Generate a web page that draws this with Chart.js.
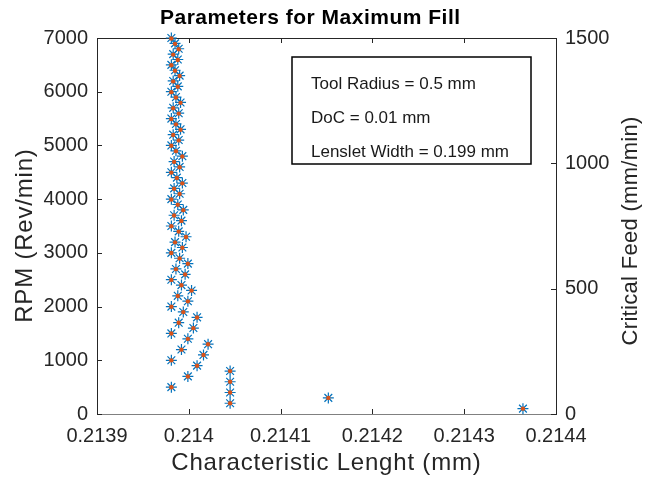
<!DOCTYPE html>
<html>
<head>
<meta charset="utf-8">
<script src="https://cdn.jsdelivr.net/npm/chart.js@4.4.1/dist/chart.umd.min.js"></script>
<style>
  body { margin: 0; background: #fff; }
  canvas { display: block; }
</style>
</head>
<body>
<canvas id="fillChart" width="651" height="479"></canvas>
<script>
// Spindle speed (left axis)
const rpm = [
  100, 200, 300, 400, 500, 600, 700, 800, 900, 1000,
  1100, 1200, 1300, 1400, 1500, 1600, 1700, 1800, 1900, 2000,
  2100, 2200, 2300, 2400, 2500, 2600, 2700, 2800, 2900, 3000,
  3100, 3200, 3300, 3400, 3500, 3600, 3700, 3800, 3900, 4000,
  4100, 4200, 4300, 4400, 4500, 4600, 4700, 4800, 4900, 5000,
  5100, 5200, 5300, 5400, 5500, 5600, 5700, 5800, 5900, 6000,
  6100, 6200, 6300, 6400, 6500, 6600, 6700, 6800, 6900, 7000
];
// Characteristic length (x) for each rpm
const charLength = [
  0.214364, 0.214045, 0.214152, 0.214045, 0.213981, 0.214045, 0.213999, 0.214045, 0.214009, 0.213981,
  0.214016, 0.213992, 0.214021, 0.213999, 0.213981, 0.214005, 0.213989, 0.214009, 0.213994, 0.213981,
  0.213999, 0.213988, 0.214003, 0.213992, 0.213981, 0.213996, 0.213986, 0.213999, 0.213990, 0.213981,
  0.213993, 0.213985, 0.213997, 0.213989, 0.213981, 0.213992, 0.213984, 0.213994, 0.213988, 0.213981,
  0.213990, 0.213984, 0.213993, 0.213987, 0.213981, 0.213990, 0.213984, 0.213993, 0.213986, 0.213981,
  0.213989, 0.213983, 0.213991, 0.213986, 0.213981, 0.213989, 0.213983, 0.213991, 0.213986, 0.213981,
  0.213988, 0.213983, 0.213990, 0.213985, 0.213981, 0.213988, 0.213983, 0.213989, 0.213985, 0.213981
];
// Critical feed (right axis, mm/min)
const critFeed = [
  21.4, 42.8, 64.2, 85.6, 107, 128.4, 149.8, 171.2, 192.6, 214,
  235.4, 256.8, 278.2, 299.6, 321, 342.4, 363.8, 385.2, 406.6, 428,
  449.4, 470.8, 492.2, 513.6, 535, 556.4, 577.8, 599.2, 620.6, 642,
  663.4, 684.8, 706.2, 727.6, 749, 770.4, 791.8, 813.2, 834.6, 856,
  877.4, 898.8, 920.2, 941.6, 963, 984.4, 1005.8, 1027.2, 1048.6, 1070,
  1091.4, 1112.8, 1134.2, 1155.6, 1177, 1198.4, 1219.8, 1241.2, 1262.6, 1284,
  1305.4, 1326.8, 1348.2, 1369.6, 1391, 1412.4, 1433.8, 1455.2, 1476.6, 1498
];

const xTicks = [0.2139, 0.214, 0.2141, 0.2142, 0.2143, 0.2144];
const rpmTicks = [0, 1000, 2000, 3000, 4000, 5000, 6000, 7000];
const feedTicks = [0, 500, 1000, 1500];

const titleText = 'Parameters for Maximum Fill';
const xLabel = 'Characteristic Lenght (mm)';
const yLabel = 'RPM (Rev/min)';
const y2Label = 'Critical Feed (mm/min)';
const boxLines = ['Tool Radius = 0.5 mm', 'DoC = 0.01 mm', 'Lenslet Width = 0.199 mm'];

const FONT = "'Liberation Sans', Arial, sans-serif";
const AXIS = '#262626';

// MATLAB style box, inward ticks, labels and the text box
const matlabAxes = {
  id: 'matlabAxes',
  beforeDatasetsDraw(chart) {
    const ctx = chart.ctx;
    const a = chart.chartArea;
    const sx = chart.scales.x, yl = chart.scales.y, yr = chart.scales.y2;
    ctx.save();
    ctx.strokeStyle = AXIS;
    ctx.lineWidth = 1;
    ctx.beginPath();
    ctx.moveTo(a.left, a.top + 0.5);
    ctx.lineTo(a.right, a.top + 0.5);
    const tl = 5;
    xTicks.forEach(v => {
      const px = Math.round(sx.getPixelForValue(v)) + 0.5;
      ctx.moveTo(px, a.bottom); ctx.lineTo(px, a.bottom - tl);
      ctx.moveTo(px, a.top); ctx.lineTo(px, a.top + tl);
    });
    rpmTicks.forEach(v => {
      const py = Math.round(yl.getPixelForValue(v)) + 0.5;
      ctx.moveTo(a.left, py); ctx.lineTo(a.left + tl, py);
    });
    feedTicks.forEach(v => {
      const py = Math.round(yr.getPixelForValue(v)) + 0.5;
      ctx.moveTo(a.right, py); ctx.lineTo(a.right - tl, py);
    });
    ctx.stroke();
    ctx.restore();
  },
  afterDraw(chart) {
    const ctx = chart.ctx;
    const label = (text, x, y, rot, font, spacing, color) => {
      ctx.save();
      ctx.translate(x, y);
      if (rot) ctx.rotate(rot);
      ctx.fillStyle = color;
      ctx.font = font;
      ctx.letterSpacing = spacing + 'px';
      ctx.textAlign = 'center';
      ctx.textBaseline = 'middle';
      ctx.fillText(text, spacing / 2, 0);
      ctx.restore();
    };
    label(titleText, 310, 18, 0, 'bold 21px ' + FONT, 0.5, '#000');
    label(xLabel, 326, 463, 0, '24px ' + FONT, 0.8, AXIS);
    label(yLabel, 25, 236, -Math.PI / 2, '24px ' + FONT, 0.8, AXIS);
    label(y2Label, 631, 231, -Math.PI / 2, '22px ' + FONT, 0.3, AXIS);

    ctx.save();
    ctx.fillStyle = '#fff';
    ctx.fillRect(292, 57, 239, 107);
    ctx.strokeStyle = '#000';
    ctx.lineWidth = 1.5;
    ctx.strokeRect(292, 57, 239, 107);
    ctx.fillStyle = '#1a1a1a';
    ctx.font = '17px ' + FONT;
    ctx.textBaseline = 'middle';
    boxLines.forEach((t, i) => ctx.fillText(t, 311, 84 + i * 34));
    ctx.restore();
  }
};

const plainNum = v => String(v);

const ctx = document.getElementById('fillChart').getContext('2d');
new Chart(ctx, {
  type: 'scatter',
  data: {
    datasets: [
      {
        label: 'RPM',
        data: rpm.map((r, i) => ({ x: charLength[i], y: r })),
        yAxisID: 'y',
        pointStyle: 'star',
        pointRadius: 5.5,
        borderColor: '#0072BD',
        backgroundColor: '#0072BD',
        pointBorderWidth: 1.2,
        clip: false,
        order: 2
      },
      {
        label: 'Critical Feed',
        data: critFeed.map((f, i) => ({ x: charLength[i], y: f })),
        yAxisID: 'y2',
        pointStyle: 'circle',
        pointRadius: 2.2,
        borderWidth: 0,
        backgroundColor: '#D95319',
        clip: false,
        order: 1
      }
    ]
  },
  options: {
    responsive: false,
    devicePixelRatio: 1,
    animation: false,
    layout: { padding: { top: 38 } },
    plugins: {
      legend: { display: false },
      tooltip: { enabled: false },
      title: { display: false }
    },
    scales: {
      x: {
        type: 'linear',
        min: 0.2139,
        max: 0.2144,
        afterBuildTicks: s => { s.ticks = xTicks.map(v => ({ value: v })); },
        afterFit: s => { s.height = 65; },
        grid: { display: false, drawTicks: false },
        border: { display: true, color: '#808080', width: 1 },
        ticks: {
          color: AXIS,
          padding: 10,
          maxRotation: 0,
          font: { family: FONT, size: 20 },
          callback: v => String(Number(v.toFixed(4)))
        }
      },
      y: {
        position: 'left',
        min: 0,
        max: 7000,
        afterBuildTicks: s => { s.ticks = rpmTicks.map(v => ({ value: v })); },
        afterFit: s => { s.width = 97; },
        grid: { display: false, drawTicks: false },
        border: { display: true, color: AXIS, width: 1 },
        ticks: { color: AXIS, padding: 9, font: { family: FONT, size: 20 }, callback: plainNum }
      },
      y2: {
        position: 'right',
        min: 0,
        max: 1500,
        afterBuildTicks: s => { s.ticks = feedTicks.map(v => ({ value: v })); },
        afterFit: s => { s.width = 95; },
        grid: { display: false, drawTicks: false },
        border: { display: true, color: AXIS, width: 1 },
        ticks: { color: AXIS, padding: 9, font: { family: FONT, size: 20 }, callback: plainNum }
      }
    }
  },
  plugins: [matlabAxes]
});
</script>
</body>
</html>
